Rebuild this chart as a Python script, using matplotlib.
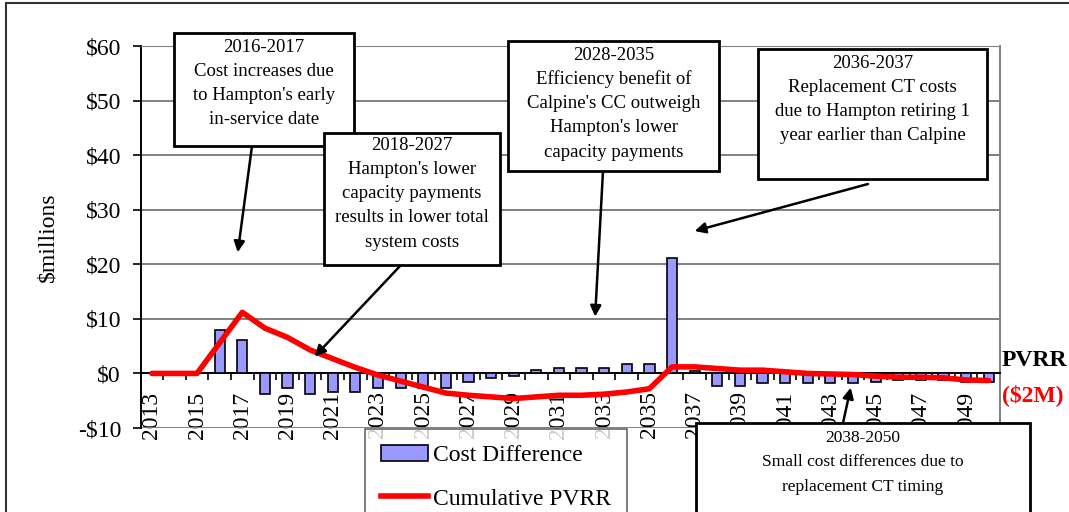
import numpy as np
import matplotlib
matplotlib.use("Agg")
import matplotlib.pyplot as plt
from matplotlib.patches import Rectangle, Patch
from matplotlib.lines import Line2D

plt.rcParams['font.family'] = ['Liberation Serif', 'DejaVu Serif']

years = list(range(2013, 2051))
cost_diff = [0, 0, 0, 8.0, 6.1, -3.8, -2.6, -3.8, -3.4, -3.4, -2.6, -2.6, -2.6, -2.6,
             -1.5, -0.8, -0.4, 0.7, 1.0, 1.0, 1.0, 1.7, 1.7, 21.1, 0.4, -2.3, -2.3,
             -1.8, -1.8, -1.8, -1.8, -1.8, -1.5, -1.2, -1.2, -1.2, -1.5, -1.5]
cum_pvrr = [0, 0, 0, 5.6, 11.2, 8.3, 6.6, 4.3, 2.7, 1.1, -0.3, -1.4, -2.5, -3.6,
            -4.0, -4.3, -4.6, -4.3, -4.0, -4.0, -3.8, -3.4, -2.8, 1.2, 1.2, 0.9, 0.6,
            0.6, 0.3, 0.0, -0.1, -0.2, -0.5, -0.7, -0.7, -0.8, -1.2, -1.3]
yticks = [-10, 0, 10, 20, 30, 40, 50, 60]
ytick_labels = ['-$10', '$0', '$10', '$20', '$30', '$40', '$50', '$60']

# annotation boxes: (left, top, right, bottom) in pixels from top-left, text lines
boxes = [
    ((174, 33, 354, 146), ['2016-2017', 'Cost increases due', "to Hampton's early", 'in-service date'], 47, 13.5),
    ((324, 133, 500, 265), ['2018-2027', "Hampton's lower", 'capacity payments', 'results in lower total', 'system costs'], 145, 13.5),
    ((508, 41, 719, 171), ['2028-2035', 'Efficiency benefit of', "Calpine's CC outweigh", "Hampton's lower", 'capacity payments'], 55, 13.5),
    ((758, 49, 987, 179), ['2036-2037', 'Replacement CT costs', 'due to Hampton retiring 1', 'year earlier than Calpine'], 63, 13.5),
    ((696, 423, 1030, 540), ['2038-2050', 'Small cost differences due to', 'replacement CT timing'], 438, 12.5),
]
# arrows: start pixel (x, y from top), tip in data (category index, $M)
arrows = [
    ((252, 146), (3.8, 22.2)),
    ((401, 265), (7.2, 3.1)),
    ((603, 171), (19.6, 10.4)),
    ((868, 184), (24.0, 26.1)),
    ((843, 423), (30.9, -2.6)),
]

W, H = 1069, 512
fig = plt.figure(figsize=(W / 100, H / 100), dpi=100)

def fx(x):
    return x / W

def fy(y):
    return 1 - y / H

ax = fig.add_axes([fx(140.5), fy(428), fx(1000) - fx(140.5), fy(46) - fy(428)])
x = np.arange(len(years))

ax.bar(x, cost_diff, width=0.45, color='#9999ff', edgecolor='black', linewidth=1.2, zorder=3)
ax.plot(x, cum_pvrr, color='#ff0000', linewidth=4, solid_capstyle='round', zorder=4)

ax.set_xlim(-0.5, len(years) - 0.5)
ax.set_ylim(-10, 60)
ax.set_yticks(yticks)
ax.set_yticklabels(ytick_labels, fontsize=17)
ax.yaxis.grid(True, color='#808080', linewidth=1.4, zorder=0)
ax.set_axisbelow(True)
ax.tick_params(axis='y', length=6, width=1.2, pad=8, direction='out')

ax.spines['bottom'].set_position(('data', 0))
ax.spines['bottom'].set_linewidth(1.4)
ax.spines['left'].set_linewidth(1.4)
ax.spines['top'].set_color('#808080')
ax.spines['right'].set_color('#808080')
ax.spines['right'].set_linewidth(1.4)

ax.set_xticks(np.arange(-0.5, len(years), 1))
ax.set_xticklabels([])
ax.tick_params(axis='x', which='major', length=5, width=1.2, direction='out')
ax.set_xticks(x[::2], minor=True)
ax.set_xticklabels([str(y) for y in years[::2]], minor=True, rotation=90, fontsize=17)
ax.tick_params(axis='x', which='minor', length=0, pad=13)

ax.set_ylabel('$millions', fontsize=17)
ax.yaxis.set_label_coords(-0.095, 0.5)

handles = [Patch(facecolor='#9999ff', edgecolor='black', linewidth=1.2),
           Line2D([0], [0], color='#ff0000', linewidth=4)]
leg = ax.legend(handles, ['Cost Difference', 'Cumulative PVRR'], loc='upper left',
                bbox_to_anchor=(fx(365), fy(429)), bbox_transform=fig.transFigure,
                fontsize=17, frameon=True, fancybox=False, edgecolor='#404040',
                handlelength=2.0, handletextpad=0.2, labelspacing=0.92, borderpad=0.67,
                borderaxespad=0)
leg.get_frame().set_linewidth(1.2)

for (l, t, r, b), lines, y0, fs in boxes:
    fig.add_artist(Rectangle((fx(l), fy(b)), fx(r) - fx(l), fy(t) - fy(b), transform=fig.transFigure,
                             facecolor='white', edgecolor='black', linewidth=2, zorder=5))
    for i, line in enumerate(lines):
        fig.text(fx((l + r) / 2), fy(y0 + i * 24.3), line, ha='center', va='center',
                 fontsize=fs, zorder=6)

for (sx, sy), tip in arrows:
    ax.annotate('', xy=tip, xycoords='data', xytext=(sx, H - sy), textcoords='figure pixels',
                arrowprops=dict(arrowstyle='-|>', color='black', lw=1.8, mutation_scale=16,
                                shrinkA=0, shrinkB=0), annotation_clip=False, zorder=7)

fig.text(fx(1002), fy(360), 'PVRR', ha='left', va='center', fontsize=17, fontweight='bold')
fig.text(fx(1002), fy(395), '($2M)', ha='left', va='center', fontsize=17, fontweight='bold',
         color='#ff0000')

fig.add_artist(Rectangle((fx(6), -0.1), 2, fy(3) + 0.1, transform=fig.transFigure,
                         fill=False, edgecolor='#333333', linewidth=1.5))

fig.savefig('out.png', dpi=100)
